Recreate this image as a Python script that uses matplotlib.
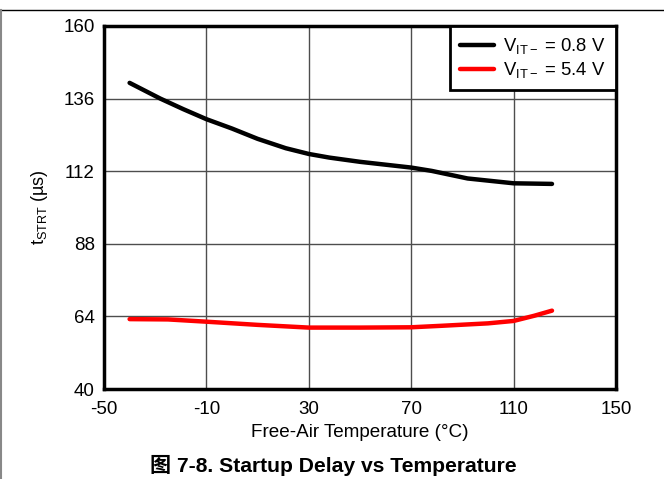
import matplotlib
matplotlib.use("Agg")
import matplotlib.pyplot as plt
from matplotlib.lines import Line2D

plt.rcParams['font.family'] = ['Liberation Sans', 'Noto Sans CJK SC', 'DejaVu Sans']
plt.rcParams['mathtext.fontset'] = 'custom'
plt.rcParams['mathtext.rm'] = 'Liberation Sans'
plt.rcParams['mathtext.it'] = 'Liberation Sans:italic'
plt.rcParams['mathtext.bf'] = 'Liberation Sans:bold'
plt.rcParams['mathtext.default'] = 'regular'

# Data
temp_black = [-40, -28, -19, -10, 0, 10, 21, 30, 38, 50, 70, 78, 92, 110, 125]
delay_black = [141.2, 136.0, 132.5, 129.2, 126.1, 122.7, 119.6, 117.7, 116.5, 115.1,
               113.2, 112.1, 109.6, 108.0, 107.8]
temp_red = [-40, -25, -10, 10, 30, 50, 70, 82, 100, 110, 118, 125]
delay_red = [63.1, 63.0, 62.25, 61.2, 60.3, 60.3, 60.4, 60.9, 61.7, 62.5, 64.2, 65.9]
labels = [r'V$_{IT-}$ = 0.8 V', r'V$_{IT-}$ = 5.4 V']
xticks = [-50, -10, 30, 70, 110, 150]
yticks = [40, 64, 88, 112, 136, 160]

fig = plt.figure(figsize=(6.64, 4.79), dpi=100)
ax = fig.add_axes([104/664, 1-389/479, (616-104)/664, (389-26)/479])

ax.plot(temp_black, delay_black, color='black', lw=3.2, label=labels[0],
        solid_capstyle='round', solid_joinstyle='round', zorder=3)
ax.plot(temp_red, delay_red, color='#ff0000', lw=3.2, label=labels[1],
        solid_capstyle='round', solid_joinstyle='round', zorder=3)

ax.set_xlim(-50, 150)
ax.set_ylim(40, 160)
ax.set_xticks(xticks)
ax.set_yticks(yticks)
ax.set_xticklabels([str(v) for v in xticks])
ax.grid(True, color='#4d4d4d', lw=1.0)
ax.tick_params(length=0, labelsize=13.5)
ax.tick_params(axis='y', pad=6.5)
ax.tick_params(axis='x', pad=9)
for s in ax.spines.values():
    s.set_linewidth(2.5)
    s.set_color('black')

ax.set_xlabel('Free-Air Temperature (°C)', fontsize=13.6, labelpad=4)
ax.set_ylabel(r't$_{STRT}$ (µs)', fontsize=13, labelpad=10)

leg = ax.legend(loc='upper right', borderaxespad=0, fontsize=13.3,
                handlelength=1.85, handletextpad=0.5, labelspacing=0.22,
                fancybox=False, edgecolor='black', framealpha=1,
                borderpad=0.55)
leg.get_frame().set_linewidth(2)

fig.text(333/664, 1-465/479, '图 7-8. Startup Delay vs Temperature',
         ha='center', va='center', fontsize=15.2, fontweight='bold')

# figure frame lines
fig.add_artist(Line2D([0, 1], [1-10/479, 1-10/479], color='black', lw=1,
                      transform=fig.transFigure))
fig.add_artist(Line2D([0.5/664, 0.5/664], [0, 1-10/479], color='#888888', lw=1.5,
                      transform=fig.transFigure))

fig.savefig('out.png', dpi=100)
